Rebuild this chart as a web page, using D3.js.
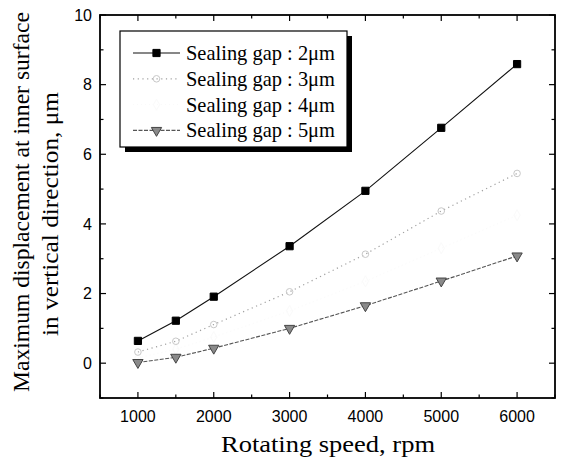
<!DOCTYPE html>
<html>
<head>
<meta charset="utf-8">
<script src="https://cdn.jsdelivr.net/npm/d3@7"></script>
<style>
  body { margin: 0; background: #fff; }
  .serif { font-family: "Liberation Serif", "Times New Roman", serif; }
  .sans { font-family: "Liberation Sans", Arial, sans-serif; }
</style>
</head>
<body>
<div id="chart"></div>
<script>
// data
const speeds = [1000, 1500, 2000, 3000, 4000, 5000, 6000]
const gap2 = [0.64, 1.22, 1.91, 3.36, 4.95, 6.76, 8.59]
const gap3 = [0.32, 0.63, 1.11, 2.05, 3.13, 4.37, 5.45]
const gap4 = [0.15, 0.40, 0.75, 1.50, 2.35, 3.30, 4.25]
const gap5 = [0.02, 0.17, 0.43, 1.00, 1.65, 2.36, 3.08]
const seriesNames = ['Sealing gap : 2\u03bcm', 'Sealing gap : 3\u03bcm', 'Sealing gap : 4\u03bcm', 'Sealing gap : 5\u03bcm']
const xTicks = [1000, 2000, 3000, 4000, 5000, 6000]
const yTicks = [0, 2, 4, 6, 8, 10]

const W = 562, H = 469
const m = { left: 100, top: 15, right: 7, bottom: 71 }
const iw = W - m.left - m.right, ih = H - m.top - m.bottom

const styles = [
  { stroke: '#111', dash: null, width: 1.1, sym: d3.symbolSquare, size: 52, fill: '#000', ms: '#000', rot: 0 },
  { stroke: '#a0a0a0', dash: '1.2,3.5', width: 1.2, sym: d3.symbolCircle, size: 34, fill: 'none', ms: '#c8c8c8', rot: 0 },
  { stroke: '#fafafa', dash: '1,3', width: 1, sym: d3.symbolDiamond, size: 34, fill: 'none', ms: '#fafafa', rot: 0 },
  { stroke: '#555', dash: '4,1.5', width: 1.1, sym: d3.symbolTriangle, size: 46, fill: '#8a8a8a', ms: '#444', rot: 180 }
]
const allSeries = [gap2, gap3, gap4, gap5]

const svg = d3.select('#chart').append('svg')
  .attr('width', W).attr('height', H)

const x = d3.scaleLinear().domain([500, 6500]).range([m.left, m.left + iw])
const y = d3.scaleLinear().domain([-1, 10]).range([m.top + ih, m.top])

// ticks, all pointing inward
const minorX = d3.range(500, 6501, 500)
const minorY = d3.range(-1, 11, 1)
const axG = svg.append('g').attr('stroke', '#000').attr('stroke-width', 1.2)
minorX.forEach(v => {
  const len = v % 1000 === 0 ? 6 : 3.5
  axG.append('line').attr('x1', x(v)).attr('x2', x(v)).attr('y1', y(-1)).attr('y2', y(-1) - len)
  axG.append('line').attr('x1', x(v)).attr('x2', x(v)).attr('y1', y(10)).attr('y2', y(10) + len)
})
minorY.forEach(v => {
  const len = v % 2 === 0 ? 6 : 3.5
  axG.append('line').attr('y1', y(v)).attr('y2', y(v)).attr('x1', x(500)).attr('x2', x(500) + len)
  axG.append('line').attr('y1', y(v)).attr('y2', y(v)).attr('x1', x(6500)).attr('x2', x(6500) - len)
})

svg.append('rect')
  .attr('x', m.left).attr('y', m.top).attr('width', iw).attr('height', ih)
  .attr('fill', 'none').attr('stroke', '#000').attr('stroke-width', 1.8)

// tick labels
svg.append('g').selectAll('text').data(xTicks).join('text')
  .attr('class', 'sans')
  .attr('x', d => x(d)).attr('y', y(-1) + 24)
  .attr('text-anchor', 'middle').style('font-size', '16px')
  .text(d => d)
svg.append('g').selectAll('text').data(yTicks).join('text')
  .attr('class', 'sans')
  .attr('x', m.left - 8).attr('y', d => y(d)).attr('dy', '0.36em')
  .attr('text-anchor', 'end').style('font-size', '16px')
  .text(d => d)

// axis titles (the scan is a bit stretched sideways, so widths are set too)
svg.append('text').attr('class', 'serif')
  .attr('x', 328).attr('y', 452)
  .attr('text-anchor', 'middle').style('font-size', '24px')
  .attr('textLength', 214).attr('lengthAdjust', 'spacingAndGlyphs')
  .text('Rotating speed, rpm')
svg.append('text').attr('class', 'serif')
  .attr('transform', 'translate(29,202) rotate(-90)')
  .attr('text-anchor', 'middle').style('font-size', '23px')
  .attr('textLength', 380).attr('lengthAdjust', 'spacingAndGlyphs')
  .text('Maximum displacement at inner surface')
svg.append('text').attr('class', 'serif')
  .attr('transform', 'translate(58,214) rotate(-90)')
  .attr('text-anchor', 'middle').style('font-size', '24px')
  .attr('textLength', 244).attr('lengthAdjust', 'spacingAndGlyphs')
  .text('in vertical direction, \u03bcm')

// series
const line = d3.line().x((d, i) => x(speeds[i])).y(d => y(d))
const draw = [2, 1, 3, 0]
draw.forEach(k => {
  const s = styles[k], vals = allSeries[k]
  svg.append('path').datum(vals)
    .attr('d', line).attr('fill', 'none')
    .attr('stroke', s.stroke).attr('stroke-width', s.width)
    .attr('stroke-dasharray', s.dash)
  svg.append('g').selectAll('path').data(vals).join('path')
    .attr('d', d3.symbol().type(s.sym).size(s.size))
    .attr('transform', (d, i) => `translate(${x(speeds[i])},${y(d)}) rotate(${s.rot})`)
    .attr('fill', s.fill).attr('stroke', s.ms).attr('stroke-width', 1)
})

// legend with drop shadow
const lg = { x: 120, y: 31, w: 227, h: 116 }
svg.append('rect').attr('x', lg.x + 5).attr('y', lg.y + 5).attr('width', lg.w).attr('height', lg.h).attr('fill', '#000')
svg.append('rect').attr('x', lg.x).attr('y', lg.y).attr('width', lg.w).attr('height', lg.h)
  .attr('fill', '#fff').attr('stroke', '#000').attr('stroke-width', 1.2)
seriesNames.forEach((name, k) => {
  const s = styles[k]
  const ry = 53 + k * 25.8
  svg.append('line').attr('x1', 133).attr('x2', 180).attr('y1', ry).attr('y2', ry)
    .attr('stroke', s.stroke).attr('stroke-width', s.width).attr('stroke-dasharray', s.dash)
  svg.append('path').attr('d', d3.symbol().type(s.sym).size(s.size))
    .attr('transform', `translate(156.5,${ry}) rotate(${s.rot})`)
    .attr('fill', s.fill).attr('stroke', s.ms).attr('stroke-width', 1)
  svg.append('text').attr('class', 'serif').attr('x', 186).attr('y', ry).attr('dy', '0.33em')
    .style('font-size', '21px').attr('textLength', 149).attr('lengthAdjust', 'spacingAndGlyphs')
    .text(name)
})
</script>
</body>
</html>
